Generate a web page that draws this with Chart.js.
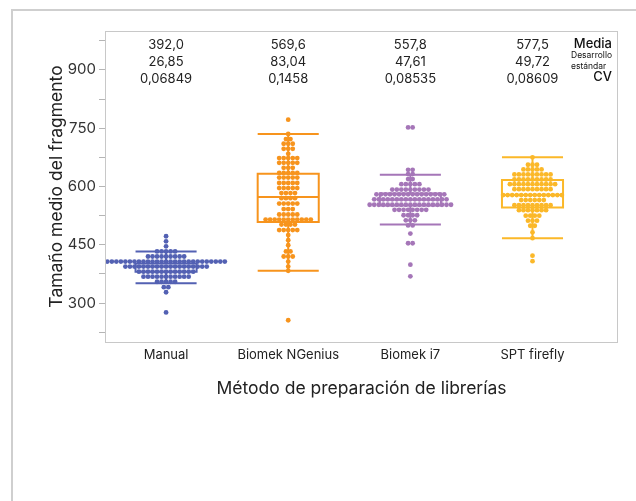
<!DOCTYPE html>
<html>
<head>
<meta charset="utf-8">
<script src="https://cdn.jsdelivr.net/npm/chart.js@4.4.1/dist/chart.umd.min.js"></script>
<style>
  html, body { margin: 0; padding: 0; background: #fff; }
  #wrap { width: 636px; height: 501px; }
</style>
</head>
<body>
<div id="wrap"><canvas id="mycanvas" width="636" height="501"></canvas></div>
<script>
// categories and colours
var categories = ['Manual', 'Biomek NGenius', 'Biomek i7', 'SPT firefly'];
var colors = ['#5361b3', '#f7941d', '#a576b8', '#fbb829'];

// binned values (row value + how many samples sit in that row)
var manualRows   = [472, 459, 446, 433, 420, 407, 394, 381, 368, 355, 341, 328, 276];
var manualCounts = [1, 1, 1, 5, 9, 27, 19, 13, 11, 5, 2, 1, 1];

var ngeniusRows   = [772, 735, 722, 710, 697, 684, 673, 661, 648, 635, 623, 609, 596, 583, 570, 556, 542, 528, 515, 502, 488, 475, 462, 449, 433, 420, 407, 394, 383, 256];
var ngeniusCounts = [1, 1, 2, 3, 3, 1, 5, 5, 3, 5, 5, 5, 5, 4, 4, 5, 3, 5, 11, 4, 5, 1, 1, 1, 2, 3, 1, 1, 1, 1];

var i7Rows   = [752, 643, 632, 619, 606, 592, 580, 567, 553, 540, 526, 513, 500, 479, 454, 399, 369];
var i7Counts = [2, 2, 2, 2, 5, 9, 16, 17, 19, 8, 4, 3, 2, 1, 2, 1, 1];

var sptRows   = [675, 656, 644, 631, 618, 606, 593, 578, 565, 552, 539, 525, 512, 499, 482, 467, 422, 408];
var sptCounts = [1, 3, 5, 9, 9, 11, 9, 14, 6, 9, 7, 4, 3, 2, 1, 1, 1, 1];

// box plot summaries
var q1         = [381, 509, 551, 546];
var medians    = [394, 573, 566, 578];
var q3         = [402, 633, 582, 617];
var whiskerLow = [351, 383, 502, 467];
var whiskerHigh= [433, 735, 630, 675];

// summary labels
var means = ['392,0', '569,6', '557,8', '577,5'];
var sds   = ['26,85', '83,04', '47,61', '49,72'];
var cvs   = ['0,06849', '0,1458', '0,08535', '0,08609'];

var yTicks = [225, 300, 375, 450, 525, 600, 675, 750, 825, 900, 975];

var FONT = 'Inter, "Noto Sans", sans-serif';
var dotStep = 0.037;   // horizontal spacing of swarm dots, in x units
var boxHalf = 0.25;    // half width of the boxes, in x units

function swarm(idx, rows, counts) {
	var pts = [];
	for (var i = 0; i < rows.length; i++) {
		var n = counts[i];
		for (var k = 0; k < n; k++) {
			pts.push({ x: idx + 1 + (k - (n - 1) / 2) * dotStep, y: rows[i] });
		}
	}
	return pts;
}

var allRows = [manualRows, ngeniusRows, i7Rows, sptRows];
var allCounts = [manualCounts, ngeniusCounts, i7Counts, sptCounts];

var datasets = [];
for (var g = 0; g < categories.length; g++) {
	datasets.push({
		label: categories[g],
		data: swarm(g, allRows[g], allCounts[g]),
		backgroundColor: colors[g],
		borderWidth: 0,
		pointRadius: 2.4,
		pointHoverRadius: 2.4
	});
}

var decor = {
	id: 'decor',
	beforeDraw: function(chart) {
		var c = chart.ctx;
		c.save();
		c.strokeStyle = '#cfcfcf';
		c.lineWidth = 2;
		c.beginPath();
		c.moveTo(12, 501);
		c.lineTo(12, 10);
		c.lineTo(636, 10);
		c.stroke();
		c.restore();
	},
	afterDatasetsDraw: function(chart) {
		var c = chart.ctx;
		var xs = chart.scales.x, ys = chart.scales.y;
		c.save();
		c.lineWidth = 2;
		for (var g = 0; g < categories.length; g++) {
			var cx = xs.getPixelForValue(g + 1);
			var l = xs.getPixelForValue(g + 1 - boxHalf);
			var r = xs.getPixelForValue(g + 1 + boxHalf);
			var yq1 = ys.getPixelForValue(q1[g]);
			var yq3 = ys.getPixelForValue(q3[g]);
			var ymed = ys.getPixelForValue(medians[g]);
			var ylo = ys.getPixelForValue(whiskerLow[g]);
			var yhi = ys.getPixelForValue(whiskerHigh[g]);
			c.strokeStyle = colors[g];
			c.beginPath();
			c.rect(l, yq3, r - l, yq1 - yq3);
			c.moveTo(l, ymed); c.lineTo(r, ymed);
			c.moveTo(cx, yq3); c.lineTo(cx, yhi);
			c.moveTo(cx, yq1); c.lineTo(cx, ylo);
			c.moveTo(l, yhi); c.lineTo(r, yhi);
			c.moveTo(l, ylo); c.lineTo(r, ylo);
			c.stroke();
		}
		c.restore();
	},
	afterDraw: function(chart) {
		var c = chart.ctx;
		var a = chart.chartArea;
		var xs = chart.scales.x;
		c.save();
		// plot frame
		c.strokeStyle = '#c8c8c8';
		c.lineWidth = 1;
		c.strokeRect(a.left + 0.5, a.top + 0.5, a.right - a.left - 1, a.bottom - a.top);

		// stats above each group
		c.fillStyle = '#222';
		c.font = '13px ' + FONT;
		c.textAlign = 'center';
		c.textBaseline = 'middle';
		for (var g = 0; g < categories.length; g++) {
			var cx = xs.getPixelForValue(g + 1);
			c.fillText(means[g], cx, 45);
			c.fillText(sds[g], cx, 62);
			c.fillText(cvs[g], cx, 79);
		}

		// stat legend on the right
		c.fillStyle = '#111';
		c.textAlign = 'right';
		c.font = '500 13px ' + FONT;
		c.fillText('Media', a.right - 6, 44);
		c.fillText('CV', a.right - 6, 77);
		c.textAlign = 'left';
		c.font = '8.5px ' + FONT;
		c.fillText('Desarrollo', 571, 55);
		c.fillText('estándar', 571, 66);

		// axis titles
		c.fillStyle = '#222';
		c.font = '17.5px ' + FONT;
		c.textAlign = 'center';
		c.fillText('Método de preparación de librerías', (a.left + a.right) / 2, 389);
		c.translate(57, (a.top + a.bottom) / 2);
		c.rotate(-Math.PI / 2);
		c.fillText('Tamaño medio del fragmento', 0, 0);
		c.restore();
	}
};

var ctx = document.getElementById('mycanvas');
var chart = new Chart(ctx, {
	type: 'scatter',
	data: { datasets: datasets },
	options: {
		responsive: false,
		animation: false,
		layout: { autoPadding: false, padding: { top: 31, right: 18, left: 0, bottom: 0 } },
		plugins: { legend: { display: false }, tooltip: { enabled: false } },
		scales: {
			x: {
				type: 'linear',
				min: 0.5,
				max: 4.7,
				afterBuildTicks: function(s) {
					s.ticks = [1, 2, 3, 4].map(function(v) { return { value: v }; });
				},
				afterFit: function(s) { s.height = 501 - 342; },
				grid: { display: false, drawTicks: false },
				border: { display: false },
				ticks: {
					padding: 5,
					color: '#222',
					font: { family: FONT, size: 13 },
					maxRotation: 0,
					callback: function(v) { return categories[v - 1]; }
				}
			},
			y: {
				type: 'linear',
				min: 200,
				max: 1000,
				afterBuildTicks: function(s) {
					s.ticks = yTicks.map(function(v) { return { value: v }; });
				},
				afterFit: function(s) { s.width = 105; },
				grid: { drawOnChartArea: false, drawTicks: true, tickLength: 6, color: '#b5b5b5' },
				border: { display: false },
				ticks: {
					padding: 3,
					color: '#333',
					font: { family: FONT, size: 15 },
					callback: function(v) { return v % 150 === 0 ? v : ''; }
				}
			}
		}
	},
	plugins: [decor]
});
</script>
</body>
</html>
